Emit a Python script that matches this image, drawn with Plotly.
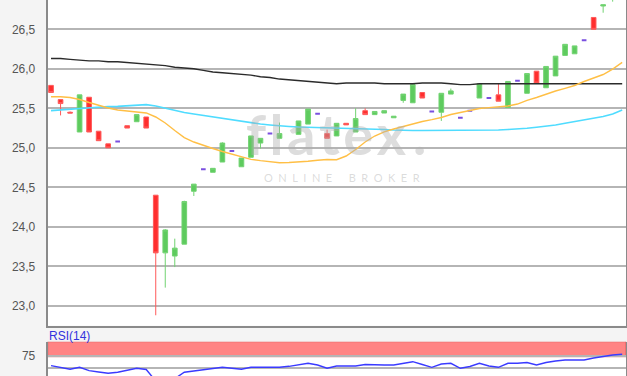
import plotly.graph_objects as go

# ---- data (slot index = trading day position; slot 25 has no candle) ----
slots = list(range(61))
opens = [25.79, 25.61, 25.45, 25.20, 25.64, 25.21, 25.05, 25.08, 25.28, 25.33,
         25.39, 24.40, 23.67, 23.63, 23.78, 24.45, 24.73, 24.69, 24.82, 24.96,
         24.76, 24.88, 25.06, 25.18, 25.12, None, 25.17, 25.30, 25.43, 25.18,
         25.15, 25.31, 25.20, 25.47, 25.42, 25.44, 25.38, 25.60, 25.57, 25.70,
         25.46, 25.45, 25.68, 25.38, 25.47, 25.63, 25.63, 25.67, 25.51, 25.85,
         25.69, 25.97, 25.76, 25.91, 26.17, 26.19, 26.36, 26.65, 26.795, 26.88,
         26.95]
highs = [25.79, 25.61, 25.46, 25.67, 25.64, 25.21, 25.05, 25.08, 25.28, 25.42,
         25.39, 24.40, 23.97, 23.85, 24.33, 24.54, 24.73, 24.74, 25.07, 24.96,
         24.87, 25.15, 25.12, 25.18, 25.32, None, 25.34, 25.49, 25.43, 25.23,
         25.31, 25.31, 25.50, 25.50, 25.46, 25.47, 25.40, 25.68, 25.80, 25.70,
         25.46, 25.69, 25.75, 25.38, 25.47, 25.81, 25.63, 25.81, 25.84, 25.85,
         25.94, 25.97, 26.03, 26.16, 26.31, 26.29, 26.36, 26.65, 26.81, 26.98,
         27.05]
lows = [25.70, 25.41, 25.44, 25.20, 25.20, 25.09, 25.00, 25.08, 25.25, 25.33,
        25.25, 22.88, 23.23, 23.49, 23.78, 24.39, 24.73, 24.69, 24.82, 24.96,
        24.76, 24.88, 24.99, 25.18, 25.12, None, 25.17, 25.30, 25.43, 25.12,
        25.15, 25.29, 25.20, 25.42, 25.42, 25.44, 25.38, 25.57, 25.57, 25.63,
        25.46, 25.34, 25.68, 25.38, 25.47, 25.63, 25.63, 25.59, 25.51, 25.85,
        25.69, 25.82, 25.76, 25.91, 26.17, 26.19, 26.36, 26.50, 26.71, 26.85,
        26.92]
closes = [25.70, 25.56, 25.44, 25.67, 25.20, 25.09, 25.00, 25.08, 25.25, 25.42,
          25.25, 23.67, 23.96, 23.73, 24.32, 24.54, 24.73, 24.74, 25.06, 24.96,
          24.87, 25.15, 25.12, 25.18, 25.18, None, 25.34, 25.49, 25.43, 25.12,
          25.31, 25.29, 25.37, 25.42, 25.46, 25.47, 25.40, 25.68, 25.80, 25.63,
          25.46, 25.69, 25.72, 25.38, 25.47, 25.81, 25.63, 25.59, 25.84, 25.85,
          25.94, 25.82, 26.03, 26.16, 26.31, 26.29, 26.36, 26.50, 26.81, 26.98,
          27.02]

ma_long = [26.13, 26.13, 26.12, 26.11, 26.10, 26.10, 26.09, 26.09, 26.08, 26.07,
           26.06, 26.05, 26.04, 26.02, 26.01, 26.00, 25.98, 25.96, 25.95, 25.94,
           25.93, 25.92, 25.90, 25.89, 25.87, 25.86, 25.85, 25.84, 25.83, 25.82,
           25.81, 25.82, 25.82, 25.82, 25.82, 25.81, 25.81, 25.81, 25.81, 25.82,
           25.82, 25.82, 25.81, 25.80, 25.80, 25.81, 25.81, 25.81, 25.81, 25.81,
           25.81, 25.81, 25.81, 25.81, 25.81, 25.81, 25.81, 25.81, 25.81, 25.81,
           25.81]
ma_mid = [25.470, 25.479, 25.491, 25.504, 25.513, 25.520, 25.523, 25.525, 25.529, 25.535,
          25.546, 25.529, 25.500, 25.472, 25.447, 25.428, 25.409, 25.396, 25.377, 25.358,
          25.339, 25.320, 25.301, 25.289, 25.276, 25.270, 25.263, 25.260, 25.257, 25.257,
          25.254, 25.251, 25.247, 25.244, 25.238, 25.232, 25.225, 25.219, 25.219, 25.219,
          25.219, 25.219, 25.219, 25.219, 25.219, 25.219, 25.222, 25.225, 25.232, 25.238,
          25.247, 25.260, 25.272, 25.289, 25.310, 25.330, 25.352, 25.373, 25.396, 25.428,
          25.479]
ma_short = [25.647, 25.647, 25.637, 25.611, 25.573, 25.535, 25.504, 25.478, 25.466, 25.453,
            25.441, 25.390, 25.314, 25.219, 25.130, 25.073, 25.029, 24.991, 24.953, 24.922,
            24.884, 24.854, 24.837, 24.820, 24.811, 24.814, 24.820, 24.829, 24.842, 24.852,
            24.849, 24.896, 24.979, 25.073, 25.149, 25.201, 25.238, 25.270, 25.297, 25.333,
            25.356, 25.384, 25.422, 25.444, 25.472, 25.497, 25.508, 25.516, 25.529, 25.554,
            25.601, 25.637, 25.681, 25.719, 25.753, 25.789, 25.839, 25.880, 25.928, 25.997,
            26.082]
rsi = [55.3, 51.6, 48.0, 52.0, 45.1, 42.5, 39.8, 41.9, 45.5, 50.0,
       47.6, 24.0, 31.0, 29.0, 41.9, 44.5, 46.5, 48.6, 52.0, 50.0,
       48.0, 52.0, 52.0, 51.6, 52.0, 54.0, 56.7, 60.2, 56.7, 50.0,
       54.7, 54.7, 54.7, 57.7, 56.7, 56.7, 56.7, 60.8, 63.4, 57.7,
       52.0, 58.7, 60.2, 50.0, 53.7, 60.2, 54.7, 52.0, 60.2, 60.2,
       61.8, 56.7, 61.8, 64.8, 66.9, 66.9, 66.9, 70.9, 74.0, 77.0,
       78.5]

price_ticks = [23.0, 23.5, 24.0, 24.5, 25.0, 25.5, 26.0, 26.5]
rsi_ticks = [50, 75]
rsi_ticktext = ["", "75"]

# ---- split candles ----
norm = [i for i in slots if opens[i] is not None and opens[i] != closes[i]]
doji = [i for i in slots if opens[i] is not None and opens[i] == closes[i]]

fig = go.Figure()
fig.add_trace(go.Candlestick(
    x=norm, open=[opens[i] for i in norm], high=[highs[i] for i in norm],
    low=[lows[i] for i in norm], close=[closes[i] for i in norm],
    increasing=dict(fillcolor="#5ecb5e", line=dict(color="#72d372", width=1)),
    decreasing=dict(fillcolor="#ff2e2e", line=dict(color="#ff5a5a", width=1)),
    showlegend=False, hoverinfo="skip", xaxis="x", yaxis="y"))
fig.add_trace(go.Candlestick(
    x=doji, open=[opens[i] for i in doji], high=[highs[i] for i in doji],
    low=[lows[i] for i in doji], close=[closes[i] for i in doji],
    increasing=dict(fillcolor="#7a4fe0", line=dict(color="#7a4fe0", width=2)),
    decreasing=dict(fillcolor="#7a4fe0", line=dict(color="#7a4fe0", width=2)),
    showlegend=False, hoverinfo="skip", xaxis="x", yaxis="y"))

fig.add_trace(go.Scatter(x=slots, y=ma_long, mode="lines",
                         line=dict(color="#2b2b2b", width=1.4), showlegend=False,
                         xaxis="x", yaxis="y"))
fig.add_trace(go.Scatter(x=slots, y=ma_mid, mode="lines",
                         line=dict(color="#4fdcff", width=1.6), showlegend=False,
                         xaxis="x", yaxis="y"))
fig.add_trace(go.Scatter(x=slots, y=ma_short, mode="lines",
                         line=dict(color="#ffbf45", width=1.4), showlegend=False,
                         xaxis="x", yaxis="y"))
fig.add_trace(go.Scatter(x=slots, y=rsi, mode="lines",
                         line=dict(color="#3a3aff", width=1.4), showlegend=False,
                         xaxis="x2", yaxis="y2"))

xr = [-0.35, 60.4]
xdom = [47.7 / 627, 626 / 627]
border = "#8a8a8a"

fig.update_layout(
    width=627, height=376,
    margin=dict(l=0, r=0, t=0, b=0),
    paper_bgcolor="#f4f4f4", plot_bgcolor="#ffffff",
    separators=",.",
    font=dict(family="Arial, Liberation Sans, sans-serif", color="#555555"),
    xaxis=dict(domain=xdom, range=xr, anchor="y", showticklabels=False,
               showgrid=False, zeroline=False, showline=True, linecolor=border,
               linewidth=2, rangeslider=dict(visible=False), fixedrange=True),
    yaxis=dict(domain=[(376 - 325.7) / 376, 1.0], range=[22.748, 26.871],
               anchor="x", tickvals=price_ticks, tickformat=".1f",
               showgrid=True, gridcolor="#b5b5b5", gridwidth=1.6,
               showline=True, mirror=True, linecolor=border, linewidth=2,
               zeroline=False, ticks="", ticklabelstandoff=8,
               tickfont=dict(size=12, color="#555555")),
    xaxis2=dict(domain=xdom, range=xr, anchor="y2", showticklabels=False,
                showgrid=False, zeroline=False, showline=False,
                rangeslider=dict(visible=False)),
    yaxis2=dict(domain=[0, (376 - 341.7) / 376], range=[34.3, 104.1],
                anchor="x2", tickvals=rsi_ticks, ticktext=rsi_ticktext,
                showgrid=True, gridcolor="#b5b5b5", gridwidth=1.6,
                showline=True, mirror=True, linecolor=border, linewidth=2,
                zeroline=False, ticks="", ticklabelstandoff=8,
                tickfont=dict(size=12, color="#555555")),
    shapes=[dict(type="rect", xref="x2 domain", yref="y2", x0=0, x1=1,
                 y0=73.6, y1=104.1, fillcolor="rgba(255,110,110,0.85)",
                 line=dict(color="#d85a5a", width=1), layer="below")],
    annotations=[
        dict(text="f\u200al\u200aa\u200at\u200ae\u200ax\u2009.", xref="paper", yref="paper",
             x=336 / 627, y=(376 - 169) / 376, yanchor="bottom", showarrow=False,
             font=dict(family="Lato, sans-serif", size=56, weight="bold",
                       color="rgba(175,175,175,0.42)")),
        dict(text="O\u2002N\u2002L\u2002I\u2002N\u2002E\u2003\u2003B\u2002R\u2002O\u2002K\u2002E\u2002R",
             xref="paper", yref="paper", x=342 / 627, y=(376 - 177) / 376,
             showarrow=False,
             font=dict(family="Lato, sans-serif", size=11,
                       color="rgba(175,175,175,0.45)")),
        dict(text="RSI(14)", xref="paper", yref="paper", x=47 / 627,
             y=(376 - 336) / 376, xanchor="left", yanchor="middle",
             showarrow=False, font=dict(size=12, color="#3333dd")),
    ],
)

fig.write_html("out.html")
